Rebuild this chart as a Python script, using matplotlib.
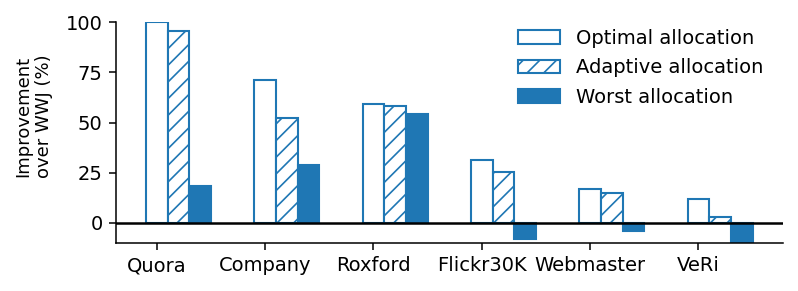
import matplotlib.pyplot as plt
import numpy as np

datasets = ['Quora', 'Company', 'Roxford', 'Flickr30K', 'Webmaster', 'VeRi']
optimal = [100, 71.1, 59.2, 31.2, 16.9, 11.9]
adaptive = [95.7, 52.4, 58.2, 25.5, 14.8, 3.0]
worst = [18.2, 28.7, 54.1, -8.1, -3.8, -11.0]

blue = '#1f77b4'
plt.rcParams['hatch.linewidth'] = 1.2
plt.rcParams['font.size'] = 14
for a in ('xtick', 'ytick'):
    plt.rcParams[a + '.major.size'] = 4.7
    plt.rcParams[a + '.major.pad'] = 4.7
    plt.rcParams[a + '.major.width'] = 1.1
plt.rcParams['axes.linewidth'] = 1.1

fig, ax = plt.subplots(figsize=(7.98, 2.91), dpi=100)
fig.subplots_adjust(left=0.145, right=0.981, bottom=0.165, top=0.924)

x = np.arange(len(datasets))
w = 0.2
ax.bar(x, optimal, w, facecolor='white', edgecolor=blue, linewidth=1.5,
       label='Optimal allocation')
ax.bar(x + w, adaptive, w, facecolor='white', edgecolor=blue, linewidth=1.5,
       hatch='//', label='Adaptive allocation')
ax.bar(x + 2 * w, worst, w, color=blue, edgecolor=blue, linewidth=1.5,
       label='Worst allocation')

ax.axhline(0, color='black', linewidth=1.8)
ax.set_ylim(-10, 100)
ax.set_yticks([0, 25, 50, 75, 100])
ax.set_xticks(x)
ax.set_xticklabels(datasets)
ax.set_ylabel('Improvement\nover WWJ (%)', fontsize=13)
ax.yaxis.set_label_coords(-0.094, 0.575)
ax.spines['top'].set_visible(False)
ax.spines['right'].set_visible(False)
ax.legend(frameon=False, loc='upper right', bbox_to_anchor=(0.997, 1.05),
          handlelength=2.2, labelspacing=0.55)

plt.savefig('out.png', dpi=100)
